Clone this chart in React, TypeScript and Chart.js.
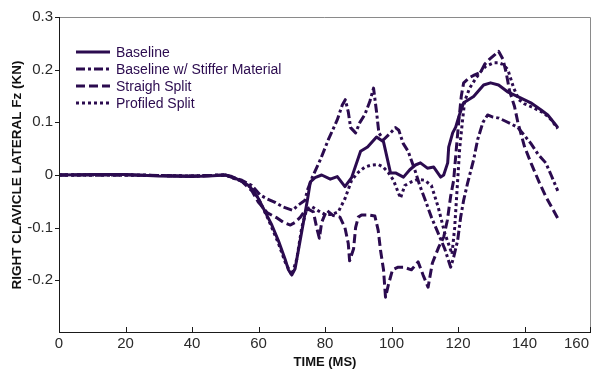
import React, { useEffect, useRef } from 'react';
import { Chart, registerables } from 'chart.js';

Chart.register(...registerables);

// ---- data (time in ms, force in kN) ----
const seriesNames = ['Baseline', 'Baseline w/ Stiffer Material', 'Straigh Split', 'Profiled Split'];

const baselineT = [0,10,20,30,40,45,50,52,55,57,58.5,60,62,64,66,68,69,70,71,72,73.5,74.7,75.6,77,79,81.6,83.7,86,88,90.7,92.8,95.5,97.6,99.7,101.2,103.6,105.5,107.2,108.7,110.8,112.7,114.8,115.7,116.9,117.2,118.4,119.3,120.2,121.7,124.7,127.7,129.8,132.2,134.9,138,141.9,144.9,147,149.4,150];
const baselineY = [0,0.001,0.001,-0.002,-0.003,-0.002,0,-0.003,-0.012,-0.02,-0.03,-0.045,-0.07,-0.095,-0.125,-0.16,-0.18,-0.19,-0.178,-0.143,-0.09,-0.048,-0.013,-0.005,0.0,-0.008,-0.003,-0.022,-0.005,0.045,0.053,0.072,0.063,0.004,0.004,-0.004,0.01,0.019,0.023,0.013,0.015,-0.004,0.0,0.023,0.053,0.08,0.091,0.11,0.137,0.149,0.171,0.175,0.171,0.158,0.149,0.137,0.124,0.114,0.095,0.09];

const stiffT = [0,20,40,50,55,58,60.5,62.5,65,67.5,70.2,72,74,74.7,76.2,78.6,81,83.7,85.2,86.1,87,87.7,89.2,90.5,92,93.5,94.6,95.5,96.2,97.6,99.7,101.2,102.2,103.5,105,107,108.5,110,112,114,116,117.8,118.7,119.9,120.8,121.7,122.9,124.7,125.9,127.5,128.9,130.5,132.3,134,136,138,140,141.9,144,146.4,148,150];
const stiffY = [0,0,-0.002,0,-0.01,-0.02,-0.038,-0.045,-0.052,-0.061,-0.067,-0.057,-0.048,-0.029,-0.004,0.029,0.067,0.105,0.133,0.143,0.12,0.09,0.08,0.1,0.115,0.14,0.165,0.12,0.08,0.067,0.08,0.09,0.085,0.06,0.045,0.01,-0.02,-0.045,-0.08,-0.11,-0.14,-0.175,-0.156,-0.124,-0.08,-0.048,-0.015,0.029,0.067,0.1,0.114,0.11,0.108,0.103,0.097,0.09,0.075,0.06,0.04,0.023,0.0,-0.03];

const straighT = [0,20,40,50,55,58,60,62.7,65.7,67.5,69.6,71,72.6,73.5,75,76.5,77.5,78.3,79,80.5,82.5,84.5,86,87,87.4,88.6,89.2,90,91,93,95,96,96.7,97.6,98.2,99,100.3,102,103.6,106,108,109.5,111,112.3,114.2,115.7,116.8,117.8,118.7,119.5,120.2,121,121.7,123.5,125,126.8,128,129.5,131,132.2,133.5,134.5,135.5,137,138,140,142,144.5,146.5,150];
const straighY = [0,0,-0.002,0,-0.012,-0.03,-0.052,-0.072,-0.082,-0.09,-0.095,-0.09,-0.08,-0.072,-0.065,-0.07,-0.1,-0.12,-0.09,-0.067,-0.077,-0.08,-0.1,-0.13,-0.163,-0.14,-0.1,-0.08,-0.076,-0.076,-0.078,-0.105,-0.143,-0.18,-0.232,-0.21,-0.18,-0.175,-0.175,-0.18,-0.165,-0.19,-0.213,-0.167,-0.137,-0.118,-0.086,-0.04,-0.01,0.05,0.1,0.15,0.175,0.185,0.19,0.195,0.21,0.22,0.228,0.235,0.22,0.194,0.16,0.13,0.1,0.054,0.022,-0.015,-0.042,-0.082];

const profiledT = [0,20,40,50,55,58,60,63,66,68,70,71.5,73,74.5,76,78,80,82,84,86,88,90,92,94,96,97.5,99,100.6,102.7,104,106,108,110,112,114,116,118.2,119,119.7,120.5,121.3,122,123.5,125,126.8,128.3,130.7,132.2,133.5,135,136.7,138.3,140,141.9,143.8,145.8,148,150];
const profiledY = [0,0,-0.002,0,-0.012,-0.025,-0.045,-0.085,-0.13,-0.165,-0.19,-0.16,-0.1,-0.065,-0.06,-0.068,-0.075,-0.075,-0.07,-0.045,-0.01,0.005,0.015,0.019,0.02,0.015,0.005,-0.01,-0.044,-0.02,-0.013,-0.008,-0.01,-0.02,-0.06,-0.11,-0.15,-0.1,-0.03,0.05,0.1,0.14,0.165,0.18,0.196,0.206,0.213,0.213,0.21,0.2,0.166,0.143,0.135,0.13,0.124,0.118,0.105,0.088];

const xTickValues = [0, 20, 40, 60, 80, 100, 120, 140, 160];
const xTickLabels = ['0', '20', '40', '60', '80', '100', '120', '140', '160'];
const yTickValues = [-0.2, -0.1, 0, 0.1, 0.2, 0.3];
const yTickLabels = ['-0.2', '-0.1', '0', '0.1', '0.2', '0.3'];

const LINE_COLOR = '#2b0b4f';
const FONT = 'Arial, "Liberation Sans", sans-serif';
const dashes: number[][] = [[], [9, 3, 3, 3], [9, 4], [3, 3]];

const zip = (t: number[], y: number[]) => t.slice(0, Math.min(t.length, y.length)).map((x, i) => ({ x, y: y[i] }));

const framePlugin = {
  id: 'frame',
  afterDraw(chart: any) {
    const { ctx, chartArea, width } = chart;
    const { left, right, top, bottom } = chartArea;
    const xs = chart.scales.x;
    const ys = chart.scales.y;
    ctx.save();
    ctx.lineWidth = 1;
    ctx.setLineDash([]);
    ctx.strokeStyle = '#8a8a8a';
    ctx.beginPath();
    ctx.moveTo(left, top + 0.5);
    ctx.lineTo(right - 0.5, top + 0.5);
    ctx.lineTo(right - 0.5, bottom);
    ctx.stroke();
    ctx.strokeStyle = '#1a1a1a';
    ctx.beginPath();
    ctx.moveTo(left + 0.5, top);
    ctx.lineTo(left + 0.5, bottom - 0.5);
    ctx.lineTo(right, bottom - 0.5);
    ctx.stroke();
    ctx.beginPath();
    yTickValues.forEach((v) => {
      const py = Math.round(ys.getPixelForValue(v)) + 0.5;
      ctx.moveTo(left - 4, py);
      ctx.lineTo(left + 1, py);
    });
    xTickValues.forEach((v) => {
      const px = Math.min(Math.round(xs.getPixelForValue(v)) + 0.5, right - 0.5);
      ctx.moveTo(px, bottom - 6);
      ctx.lineTo(px, bottom);
    });
    ctx.stroke();

    // x tick labels (last one kept inside the canvas)
    ctx.font = `15px ${FONT}`;
    ctx.fillStyle = '#2a2a2a';
    ctx.textBaseline = 'middle';
    ctx.textAlign = 'left';
    xTickValues.forEach((v, i) => {
      const label = xTickLabels[i];
      const w = ctx.measureText(label).width;
      let x0 = xs.getPixelForValue(v) - w / 2;
      if (x0 + w > width - 2) x0 = width - 2 - w;
      ctx.fillText(label, x0, bottom + 11);
    });

    // legend
    const lx0 = 76, lx1 = 110, ly0 = 52, lstep = 17;
    chart.data.datasets.forEach((ds: any, i: number) => {
      const yy = ly0 + i * lstep;
      ctx.strokeStyle = LINE_COLOR;
      ctx.lineWidth = 3;
      ctx.lineCap = 'butt';
      ctx.setLineDash(dashes[i]);
      ctx.beginPath();
      ctx.moveTo(lx0, yy);
      ctx.lineTo(lx1, yy);
      ctx.stroke();
      ctx.setLineDash([]);
      ctx.fillStyle = LINE_COLOR;
      ctx.font = `14px ${FONT}`;
      ctx.textBaseline = 'middle';
      ctx.textAlign = 'left';
      ctx.fillText(ds.label, 116, yy + 1);
    });
    ctx.restore();
  },
};

export default function App() {
  const ref = useRef<HTMLCanvasElement>(null);
  useEffect(() => {
    const canvas = ref.current;
    if (!canvas) return;
    const sets = [zip(baselineT, baselineY), zip(stiffT, stiffY), zip(straighT, straighY), zip(profiledT, profiledY)];
    const chart = new Chart(canvas, {
      type: 'line',
      data: {
        datasets: sets.map((d, i) => ({
          label: seriesNames[i],
          data: d,
          borderColor: LINE_COLOR,
          backgroundColor: LINE_COLOR,
          borderWidth: 3,
          borderDash: dashes[i],
          borderCapStyle: 'butt',
          borderJoinStyle: 'round',
          pointRadius: 0,
          tension: 0,
          fill: false,
        })),
      },
      options: {
        responsive: false,
        animation: false,
        devicePixelRatio: 1,
        layout: { padding: { top: 17, right: 0, left: 0, bottom: 0 } },
        plugins: { legend: { display: false }, tooltip: { enabled: false } },
        scales: {
          x: {
            type: 'linear',
            min: 0,
            max: 160,
            afterFit: (s: any) => { s.height = 39; s.paddingLeft = 0; s.paddingRight = 0; },
            afterBuildTicks: (s: any) => { s.ticks = xTickValues.map((v) => ({ value: v })); },
            ticks: { display: false },
            grid: { display: false, drawTicks: false },
            border: { display: false },
            title: {
              display: true,
              text: 'TIME (MS)',
              font: { family: FONT, size: 13, weight: 'bold' },
              color: '#111',
              padding: { top: 0, bottom: 2 },
            },
          },
          y: {
            type: 'linear',
            min: -0.3,
            max: 0.3,
            afterFit: (s: any) => { s.width = 59; s.paddingTop = 0; s.paddingBottom = 0; },
            afterBuildTicks: (s: any) => { s.ticks = yTickValues.map((v) => ({ value: v })); },
            ticks: {
              callback: (_v: any, i: number) => yTickLabels[i],
              font: { family: FONT, size: 15 },
              color: '#2a2a2a',
              padding: 6,
              autoSkip: false,
            },
            grid: { display: false, drawTicks: false },
            border: { display: false },
            title: {
              display: true,
              text: 'RIGHT CLAVICLE LATERAL Fz (KN)',
              font: { family: FONT, size: 13.5, weight: 'bold' },
              color: '#111',
              padding: { top: 9, bottom: 0 },
            },
          },
        },
      } as any,
      plugins: [framePlugin],
    });
    return () => chart.destroy();
  }, []);
  return (
    <div style={{ position: 'fixed', left: 0, top: 0, width: 591, height: 372, background: '#fff' }}>
      <canvas ref={ref} width={591} height={372} style={{ display: 'block' }} />
    </div>
  );
}
